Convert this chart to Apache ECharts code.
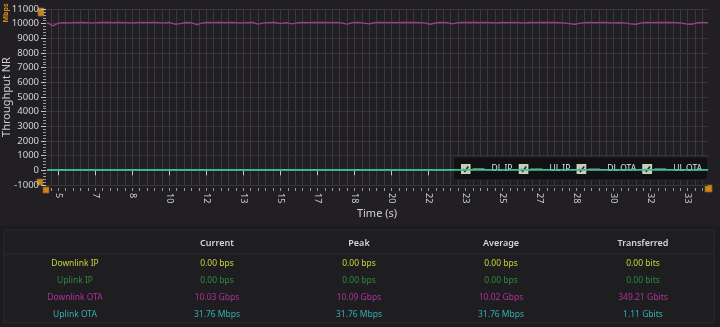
<!DOCTYPE html>
<html>
<head>
<meta charset="utf-8">
<script src="https://cdn.jsdelivr.net/npm/echarts@6/dist/echarts.min.js"></script>
<style>
  html, body { margin: 0; padding: 0; background: #201f22; }
  #chart { width: 720px; height: 327px; }
</style>
</head>
<body>
<div id="chart"></div>
<script>
// Sample times (s)
const times = [
  4.5, 4.75, 5, 5.25, 5.5, 5.75, 6, 6.25, 6.5, 6.75, 7, 7.25, 7.5, 7.75, 8, 8.25, 8.5, 8.75, 9, 9.25,
  9.5, 9.75, 10, 10.25, 10.5, 10.75, 11, 11.25, 11.5, 11.75, 12, 12.25, 12.5, 12.75, 13, 13.25, 13.5, 13.75, 14, 14.25,
  14.5, 14.75, 15, 15.25, 15.5, 15.75, 16, 16.25, 16.5, 16.75, 17, 17.25, 17.5, 17.75, 18, 18.25, 18.5, 18.75, 19, 19.25,
  19.5, 19.75, 20, 20.25, 20.5, 20.75, 21, 21.25, 21.5, 21.75, 22, 22.25, 22.5, 22.75, 23, 23.25, 23.5, 23.75, 24, 24.25,
  24.5, 24.75, 25, 25.25, 25.5, 25.75, 26, 26.25, 26.5, 26.75, 27, 27.25, 27.5, 27.75, 28, 28.25, 28.5, 28.75, 29, 29.25,
  29.5, 29.75, 30, 30.25, 30.5, 30.75, 31, 31.25, 31.5, 31.75, 32, 32.25, 32.5, 32.75, 33, 33.25, 33.5, 33.75, 34, 34.25
];

// Throughput (Mbps)
const dlOta = [
  10080, 9850, 10040, 10070, 10060, 10070, 10080, 10070, 10060, 10070, 10090, 10080, 10070, 10080, 10070, 10060, 10070, 10080, 10070, 10080,
  10070, 10060, 10080, 9960, 10010, 10080, 10050, 9940, 10060, 10080, 10070, 10080, 10070, 10080, 10070, 10060, 10070, 10080, 9970, 10060,
  10070, 10080, 10000, 10070, 9980, 10060, 10080, 10070, 10080, 10090, 10080, 10070, 10080, 10060, 9970, 10070, 10090, 10030, 9980, 10070,
  10080, 10070, 10080, 10070, 10080, 10090, 10080, 10070, 10060, 9960, 10060, 10080, 10070, 9980, 10070, 10080, 10090, 10080, 10070, 10080,
  10070, 10060, 10080, 10070, 10080, 10070, 10060, 10080, 10070, 10080, 10090, 10080, 10070, 10060, 10010, 9950, 10040, 10070, 10080, 10070,
  10080, 10070, 10060, 10070, 10060, 9980, 9950, 10050, 10080, 10070, 10080, 10090, 10080, 10070, 10060, 9990, 9960, 10060, 10080, 10070
];
const ulOta = [
  31.76, 31.76, 31.76, 31.76, 31.76, 31.76, 31.76, 31.76, 31.76, 31.76, 31.76, 31.76, 31.76, 31.76, 31.76, 31.76, 31.76, 31.76, 31.76, 31.76,
  31.76, 31.76, 31.76, 31.76, 31.76, 31.76, 31.76, 31.76, 31.76, 31.76, 31.76, 31.76, 31.76, 31.76, 31.76, 31.76, 31.76, 31.76, 31.76, 31.76,
  31.76, 31.76, 31.76, 31.76, 31.76, 31.76, 31.76, 31.76, 31.76, 31.76, 31.76, 31.76, 31.76, 31.76, 31.76, 31.76, 31.76, 31.76, 31.76, 31.76,
  31.76, 31.76, 31.76, 31.76, 31.76, 31.76, 31.76, 31.76, 31.76, 31.76, 31.76, 31.76, 31.76, 31.76, 31.76, 31.76, 31.76, 31.76, 31.76, 31.76,
  31.76, 31.76, 31.76, 31.76, 31.76, 31.76, 31.76, 31.76, 31.76, 31.76, 31.76, 31.76, 31.76, 31.76, 31.76, 31.76, 31.76, 31.76, 31.76, 31.76,
  31.76, 31.76, 31.76, 31.76, 31.76, 31.76, 31.76, 31.76, 31.76, 31.76, 31.76, 31.76, 31.76, 31.76, 31.76, 31.76, 31.76, 31.76, 31.76, 31.76
];
const dlIp = [
  0, 0, 0, 0, 0, 0, 0, 0, 0, 0, 0, 0, 0, 0, 0, 0, 0, 0, 0, 0,
  0, 0, 0, 0, 0, 0, 0, 0, 0, 0, 0, 0, 0, 0, 0, 0, 0, 0, 0, 0,
  0, 0, 0, 0, 0, 0, 0, 0, 0, 0, 0, 0, 0, 0, 0, 0, 0, 0, 0, 0,
  0, 0, 0, 0, 0, 0, 0, 0, 0, 0, 0, 0, 0, 0, 0, 0, 0, 0, 0, 0,
  0, 0, 0, 0, 0, 0, 0, 0, 0, 0, 0, 0, 0, 0, 0, 0, 0, 0, 0, 0,
  0, 0, 0, 0, 0, 0, 0, 0, 0, 0, 0, 0, 0, 0, 0, 0, 0, 0, 0, 0
];
const ulIp = dlIp.slice();

// Time-axis tick positions (labels shown rounded)
const xTicks = [5, 6.6667, 8.3333, 10, 11.6667, 13.3333, 15, 16.6667, 18.3333, 20, 21.6667, 23.3333, 25, 26.6667, 28.3333, 30, 31.6667, 33.3333];

// Series names and colours
const seriesNames = ['DL IP', 'UL IP', 'DL OTA', 'UL OTA'];
const lineColors = ['#b8c040', '#3f8a3f', '#9c3f8c', '#3cbf9c'];
const legendColors = ['#9a9a5a', '#6f7d52', '#a8476e', '#6f8585'];

// Statistics table
const tableHeaders = ['', 'Current', 'Peak', 'Average', 'Transferred'];
const rowNames = ['Downlink IP', 'Uplink IP', 'Downlink OTA', 'Uplink OTA'];
const rowColors = ['#c9d43c', '#2f8a3c', '#b0309c', '#35aeb0'];
const currentVals = ['0.00 bps', '0.00 bps', '10.03 Gbps', '31.76 Mbps'];
const peakVals = ['0.00 bps', '0.00 bps', '10.09 Gbps', '31.76 Mbps'];
const averageVals = ['0.00 bps', '0.00 bps', '10.02 Gbps', '31.76 Mbps'];
const transferredVals = ['0.00 bits', '0.00 bits', '349.21 Gbits', '1.11 Gbits'];

const FONT = '"Noto Sans", "Open Sans", sans-serif';

// minor tick positions: five subdivisions between neighbouring major ticks
const step = (xTicks[1] - xTicks[0]) / 5;
const minorTicks = [];
for (let v = xTicks[0] - 2 * step; v < 34.3; v += step) minorTicks.push(+v.toFixed(4));

function legendIcon(color) {
  const svg = '<svg xmlns="http://www.w3.org/2000/svg" width="52" height="20" viewBox="0 0 26 10">' +
    '<rect x="0.5" y="0.5" width="9" height="9" fill="#c9c9b8" stroke="#e6e6da" stroke-width="0.8"/>' +
    '<path d="M2.3 5.1 L4.3 7.2 L7.8 2.6" fill="none" stroke="#2a2a26" stroke-width="1.6"/>' +
    '<line x1="12" y1="5" x2="24" y2="5" stroke="' + color + '" stroke-width="1.3"/>' +
    '</svg>';
  return 'image://data:image/svg+xml;charset=utf-8,' + encodeURIComponent(svg);
}

const seriesData = [dlIp, ulIp, dlOta, ulOta];
const series = seriesNames.map((name, i) => ({
  name: name,
  type: 'line',
  showSymbol: false,
  symbol: 'none',
  animation: false,
  lineStyle: { color: lineColors[i], width: i === 3 ? 1.6 : 1.3 },
  itemStyle: { color: lineColors[i] },
  data: times.map((t, k) => [t, seriesData[i][k]]),
  z: i === 3 ? 5 : 3
}));

// Table graphics
const colCenters = [75, 217, 359, 501, 643];
const headerY = 243;
const rowYs = [264, 281, 298, 315];
const columns = [rowNames, currentVals, peakVals, averageVals, transferredVals];
const graphic = [
  { type: 'rect', shape: { x: 0, y: 226, width: 720, height: 101 }, style: { fill: '#1c1b1e' }, silent: true, z: -10 },
  { type: 'rect', shape: { x: 4, y: 230, width: 710, height: 93 }, style: { fill: '#1e1d20', stroke: '#2c2b2f', lineWidth: 1 }, silent: true, z: -9 },
  { type: 'line', shape: { x1: 4, y1: 254, x2: 714, y2: 254 }, style: { stroke: '#2e2d31', lineWidth: 1 }, silent: true, z: -8 }
];
tableHeaders.forEach((h, c) => {
  if (!h) return;
  graphic.push({ type: 'text', x: colCenters[c], y: headerY, silent: true,
    style: { text: h, fill: '#d6d6d6', font: '600 9px ' + FONT, align: 'center', verticalAlign: 'middle' } });
});
columns.forEach((col, c) => {
  col.forEach((txt, r) => {
    graphic.push({ type: 'text', x: colCenters[c], y: rowYs[r], silent: true,
      style: { text: txt, fill: rowColors[r], font: '8.5px ' + FONT, align: 'center', verticalAlign: 'middle' } });
  });
});
// unit tag and range handles
graphic.push({ type: 'text', x: 6, y: 13, rotation: Math.PI / 2, silent: true,
  style: { text: 'Mbps', fill: '#d18a22', font: 'bold 7px ' + FONT, align: 'center', verticalAlign: 'middle' } });
[[38, 8, 6, 8], [37, 179, 6, 6], [43, 187, 6, 6], [705, 185, 7, 7]].forEach(r => {
  graphic.push({ type: 'rect', shape: { x: r[0], y: r[1], width: r[2], height: r[3] }, silent: true,
    style: { fill: '#c8861f', stroke: '#8a5a14', lineWidth: 0.8 } });
});

const option = {
  backgroundColor: '#211f23',
  animation: false,
  textStyle: { fontFamily: FONT },
  grid: { left: 46, right: 12, top: 9, bottom: 142, containLabel: false, outerBoundsMode: 'none' },
  legend: {
    right: 12, top: 157,
    data: seriesNames.map((n, i) => ({ name: n, icon: legendIcon(legendColors[i]) })),
    itemWidth: 26, itemHeight: 10, itemGap: 6,
    backgroundColor: '#111012', borderColor: '#29282b', borderWidth: 1,
    padding: [7, 6, 6, 7],
    selectedMode: false,
    textStyle: { color: '#e2e2e2', fontSize: 8.5, fontFamily: FONT }
  },
  xAxis: [
    {
      type: 'value', min: 4.45, max: 34.25,
      name: 'Time (s)', nameLocation: 'middle', nameGap: 20, nameMoveOverlap: false,
      nameTextStyle: { color: '#cfcfcf', fontSize: 11 },
      offset: 3,
      axisLine: { show: false },
      axisTick: { show: true, length: 5, customValues: xTicks, lineStyle: { color: '#c8c8c8' } },
      axisLabel: { customValues: xTicks, rotate: -90, color: '#cfcfcf', fontSize: 9, margin: 5,
        formatter: v => String(Math.round(v)) },
      splitLine: { show: false }
    },
    {
      type: 'value', min: 4.45, max: 34.25, position: 'bottom',
      offset: 3,
      axisLine: { show: false },
      axisTick: { show: true, length: 3, customValues: minorTicks, lineStyle: { color: '#9a9a9a' } },
      axisLabel: { show: false, customValues: minorTicks },
      splitLine: { show: true, lineStyle: { color: '#3a393e', width: 1 } }
    }
  ],
  yAxis: {
    type: 'value', min: -1000, max: 11000, interval: 1000,
    name: 'Throughput NR', nameLocation: 'middle', nameGap: 34, nameMoveOverlap: false,
    nameTextStyle: { color: '#cfcfcf', fontSize: 11 },
    axisLine: { show: false },
    axisTick: { show: true, length: 5, lineStyle: { color: '#c8c8c8' } },
    minorTick: { show: true, splitNumber: 5, length: 3, lineStyle: { color: '#9a9a9a' } },
    axisLabel: { color: '#d4d4d4', fontSize: 9.5, margin: 7, formatter: v => String(v) },
    splitLine: { show: true, lineStyle: { color: '#37363b', width: 1 } }
  },
  series: series,
  graphic: graphic
};

const chart = echarts.init(document.getElementById('chart'), null, { renderer: 'canvas' });
chart.setOption(option);
</script>
</body>
</html>
